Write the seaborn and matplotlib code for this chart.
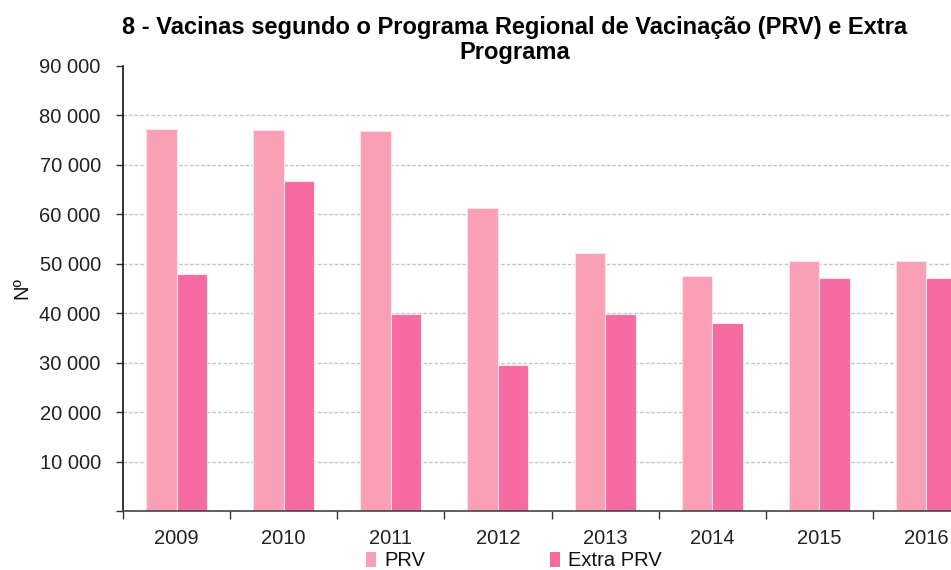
import matplotlib
matplotlib.use("Agg")
import matplotlib.pyplot as plt
import seaborn as sns
import pandas as pd
from matplotlib.patches import Patch

years = ["2009", "2010", "2011", "2012", "2013", "2014", "2015", "2016"]
prv = [77200, 77000, 76800, 61300, 52200, 47500, 50600, 50600]
extra_prv = [48000, 66800, 39900, 29500, 39900, 38000, 47200, 47200]
series_names = ["PRV", "Extra PRV"]
title = "8 - Vacinas segundo o Programa Regional de Vacinação (PRV) e Extra\nPrograma"
y_label = "Nº"
y_ticks = [0, 10000, 20000, 30000, 40000, 50000, 60000, 70000, 80000, 90000]

colors = ["#F9A0B7", "#F56BA2"]

sns.set_style("white")
plt.rcParams["font.family"] = ["Liberation Sans", "DejaVu Sans"]
plt.rcParams["text.color"] = "#111111"
plt.rcParams["axes.labelcolor"] = "#111111"

df = pd.DataFrame({
    "year": years * 2,
    "value": prv + extra_prv,
    "series": [series_names[0]] * len(years) + [series_names[1]] * len(years),
})

fig = plt.figure(figsize=(9.51, 5.70), dpi=100)
W, H = 951, 570
ax = fig.add_axes([123 / W, 59 / H, (980 - 123) / W, 445 / H])

sns.barplot(data=df, x="year", y="value", hue="series", order=years,
            hue_order=series_names, palette=colors, width=0.57,
            edgecolor="#FDE3EA", linewidth=0.8, ax=ax, legend=False,
            errorbar=None, saturation=1)

ax.set_xlim(-0.5, len(years) - 0.5)
ax.set_ylim(0, 90000)
ax.set_yticks(y_ticks)
ax.set_yticklabels(["" if v == 0 else f"{v:,}".replace(",", " ") for v in y_ticks],
                   fontsize=14.5, color="#222222")
ax.tick_params(axis="y", direction="out", length=5, width=1, color="#333333", pad=11, left=True)
ax.tick_params(axis="x", which="major", length=0, labelsize=14.5, pad=13, labelcolor="#222222")
ax.set_xticks([i - 0.5 for i in range(len(years) + 1)], minor=True)
ax.tick_params(axis="x", which="minor", direction="out", length=6, width=1, color="#333333", bottom=True)

ax.grid(axis="y", linestyle=(0, (2.5, 1.5)), color="#C4C4C4", linewidth=1)
for line, v in zip(ax.get_ygridlines(), y_ticks):
    if v in (0, 90000):
        line.set_visible(False)
ax.set_axisbelow(True)

for s in ["top", "right"]:
    ax.spines[s].set_visible(False)
ax.spines["left"].set_color("#111111")
ax.spines["bottom"].set_color("#444444")
ax.spines["left"].set_linewidth(1.2)
ax.spines["bottom"].set_linewidth(1.2)

ax.set_xlabel("")
ax.set_ylabel(y_label, fontsize=14.5)
ax.yaxis.set_label_coords(-(123 - 31) / (980 - 123), 0.5)

fig.text(515 / W, 1 - 40 / H, title, ha="center", va="center", fontsize=17,
         fontweight="bold", linespacing=1.15, color="black")

handles = [Patch(facecolor=c, edgecolor="none") for c in colors]
fig.legend(handles, series_names, loc="center", bbox_to_anchor=(514 / W, 1 - 561 / H),
           ncol=2, frameon=False, fontsize=14.5, handlelength=0.5, handleheight=0.7,
           handletextpad=0.4, columnspacing=6.2)

fig.savefig("out.png", dpi=100)
